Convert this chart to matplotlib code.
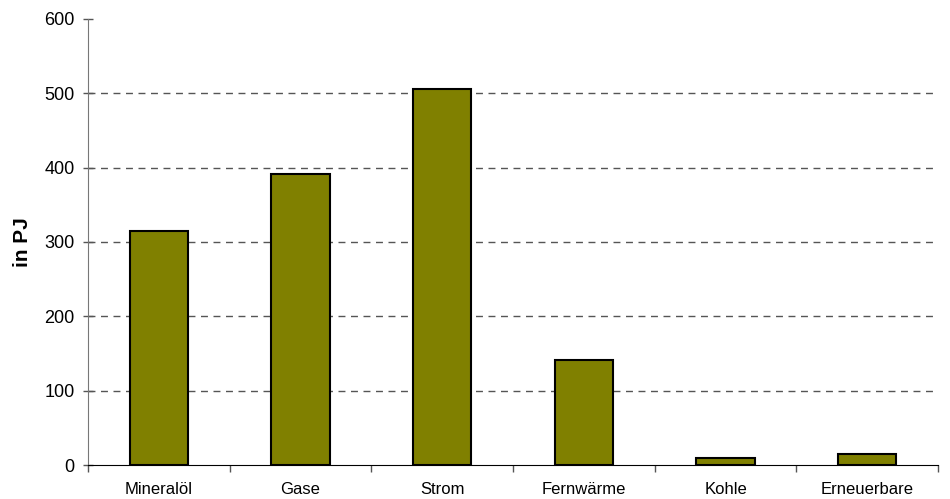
import numpy as np
import matplotlib.pyplot as plt

categories = ['Mineralöl', 'Gase', 'Strom', 'Fernwärme', 'Kohle', 'Erneuerbare']
values_pj = [315, 392, 506, 141, 9, 15]

plt.rcParams['font.family'] = ['Liberation Sans', 'DejaVu Sans']

fig = plt.figure(figsize=(9.5, 4.99), dpi=100)
ax = fig.add_axes([88 / 950, 34 / 499, 850 / 950, 446 / 499])

x = np.arange(len(categories))
ax.bar(x, values_pj, width=0.41, color='#808000', edgecolor='black', linewidth=1.5, zorder=3)

ax.set_xlim(-0.5, len(categories) - 0.5)
ax.set_ylim(0, 600)
ax.set_yticks(np.arange(0, 601, 100))
ax.tick_params(axis='y', labelsize=13, length=7, width=1, color='#555555',
               direction='inout', pad=6)

# category names centred, ticks on the boundaries between them
ax.set_xticks(x)
ax.set_xticklabels(categories, fontsize=12)
ax.tick_params(axis='x', which='major', length=0, pad=12)
ax.set_xticks(np.arange(-0.5, len(categories) - 0.5 + 0.01, 1), minor=True)
ax.tick_params(axis='x', which='minor', length=5, width=1, color='#555555', direction='out')

for yv in range(100, 600, 100):
    ax.axhline(yv, color='#555555', linestyle=(0, (5, 4)), linewidth=1, zorder=1)

for side in ['top', 'right']:
    ax.spines[side].set_visible(False)
ax.spines['left'].set_color('#777777')
ax.spines['bottom'].set_color('black')

ax.set_ylabel('in PJ', fontsize=15, fontweight='bold', labelpad=9)

fig.savefig('out.png', dpi=100)
